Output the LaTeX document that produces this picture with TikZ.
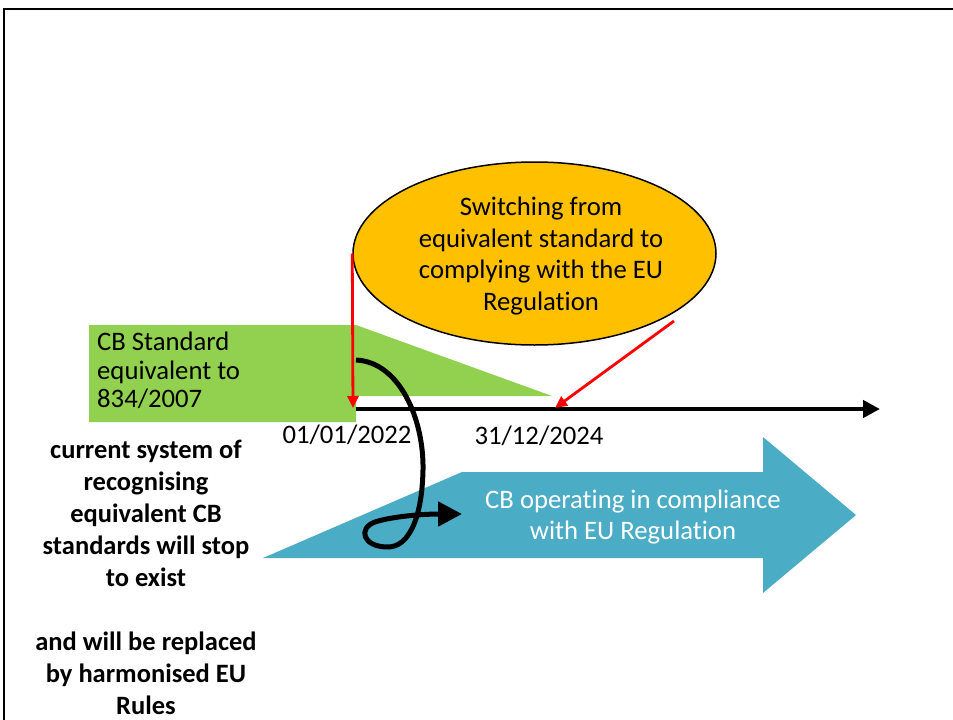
\documentclass[tikz,border=0pt]{standalone}
\usepackage{fontspec}
\setmainfont[Ligatures=NoCommon]{Carlito}
\usetikzlibrary{shapes.geometric,arrows.meta}
\definecolor{cbgreen}{HTML}{92D050}
\definecolor{cbblue}{HTML}{4BACC6}
\definecolor{cborange}{HTML}{FFC000}
\definecolor{cbred}{HTML}{FF0000}
\tikzset{
  txt/.style={inner sep=0pt, font=\fontsize{26.7}{29}\selectfont},
  boldtxt/.style={inner sep=0pt, align=center, font=\fontsize{26.5}{32}\selectfont\bfseries},
  redarrow/.style={draw=cbred, line width=2.8pt, -{Triangle[length=12pt,width=11pt]}},
  blackarrow/.style={draw=black, line width=4.5pt, -{Triangle[length=17pt,width=17pt]}},
  curvearrow/.style={draw=black, line width=5pt, -{Triangle[length=24pt,width=24pt]}}
}
\begin{document}
\begin{tikzpicture}[x=1pt,y=-1pt]
\useasboundingbox (0,0) rectangle (953,720);
\fill[white] (0,0) rectangle (953,720);
\draw[line width=2pt] (3.5,720) -- (3.5,9) -- (953,9);

% green shape
\fill[cbgreen] (89,325) -- (356,325) -- (552,396) -- (356,396) -- (356,422) -- (89,422) -- cycle;
\node[txt, align=left, anchor=west, font=\fontsize{26.7}{28.5}\selectfont] (cbstd) at (97,370.5)
  {CB Standard\\equivalent to\\834/2007};

% blue arrow shape
\fill[cbblue] (263,558) -- (462,472) -- (763,472) -- (763,437) -- (856,515) -- (763,593) -- (763,558) -- cycle;
\node[txt, align=center, text=white, font=\fontsize{26.7}{31}\selectfont] (blue) at (633,517)
  {CB operating in compliance\\with EU Regulation};

% timeline
\coordinate (tl0) at (356,409);
\coordinate (tl1) at (880,409);
\draw[blackarrow] (tl0) -- (tl1);
\node[txt, anchor=base] (d1) at (347,443) {01/01/2022};
\node[txt, anchor=base] (d2) at (539,444) {31/12/2024};

% ellipse
\node[ellipse, draw=black, line width=1.5pt, fill=cborange, minimum width=363pt, minimum height=183pt, inner sep=0pt] (ell) at (534.5,253.5) {};
\node[txt, align=center, font=\fontsize{26.7}{31.7}\selectfont] (elltext) at (541,256)
  {Switching from\\equivalent standard to\\complying with the EU\\Regulation};

% red arrows
\coordinate (r1) at (353,408);
\coordinate (r2s) at (674,321);
\coordinate (r2) at (555,408);
\draw[redarrow] (ell.west) -- (r1);
\draw[redarrow] (r2s) -- (r2);

% black curved arrow
\coordinate (cs) at (356,360);
\coordinate (ce) at (462,514);
\draw[curvearrow] (cs) .. controls (400,362) and (424,420) .. (423,470)
  .. controls (422,520) and (408,547) .. (388,547)
  .. controls (362,547) and (358,528) .. (375,522)
  .. controls (390,517) and (420,514) .. (ce);

% left bold text
\node[boldtxt] (left) at (146,577)
  {current system of\\recognising\\equivalent CB\\standards will stop\\to exist\\[32pt]and will be replaced\\by harmonised EU\\Rules};
\end{tikzpicture}
\end{document}
